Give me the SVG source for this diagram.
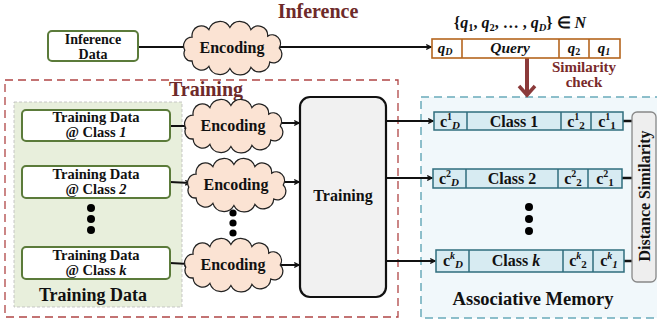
<svg xmlns="http://www.w3.org/2000/svg" width="657" height="326" viewBox="0 0 657 326" font-family="Liberation Serif, Times New Roman, serif">
<style>
text{font-family:"Liberation Serif","Times New Roman",serif;font-weight:bold;fill:#111}
.title{font-size:20px;fill:#6e2a2a}
.gbox{fill:#fff;stroke:#5b7b3a;stroke-width:2}
.cloud{fill:#fbe3d3;stroke:#222;stroke-width:1.2}
.enc{font-size:16px;text-anchor:middle}
.td{font-size:14.5px;text-anchor:middle}
.conn{stroke:#111;stroke-width:2;fill:none}
.bar{fill:#d7ebf2;stroke:#2f6d7d;stroke-width:1.5}
.bl{stroke:#2f6d7d;stroke-width:1.5}
.qbar{fill:#fff;stroke:#b5651d;stroke-width:1.6}
.ql{stroke:#b5651d;stroke-width:1.6}
.cell{font-size:16px;text-anchor:middle}
.it{font-style:italic}
.dot{fill:#000}
</style>
<defs>
<marker id="arr" viewBox="0 0 10 10" refX="9" refY="5" markerWidth="6" markerHeight="6" orient="auto" markerUnits="userSpaceOnUse">
<path d="M1,1 L9,5 L1,9" fill="none" stroke="#111" stroke-width="2"/>
</marker>
<path id="cloud" d="M -45,2 A 8,8 0 0 1 -38,-10 A 9,9 0 0 1 -22,-17 A 11,11 0 0 1 -2,-19 A 11,11 0 0 1 18,-17 A 9,9 0 0 1 34,-11 A 8,8 0 0 1 45,0 A 8,8 0 0 1 36,13 A 10,10 0 0 1 18,18 A 11,11 0 0 1 -2,19 A 11,11 0 0 1 -22,17 A 9,9 0 0 1 -38,12 A 7,7 0 0 1 -45,2 Z"/>
</defs>

<!-- regions -->
<g id="training-region">
<rect x="5" y="80" width="393" height="237" fill="none" stroke="#b04545" stroke-width="1.3" stroke-dasharray="8,5"/>
<text class="title" x="206" y="96" text-anchor="middle">Training</text>
</g>
<g id="training-data-region">
<rect x="14" y="102" width="168" height="205" fill="#e8efdc" stroke="#bbb" stroke-width="0.8" stroke-dasharray="3,2"/>
<text x="93" y="301" font-size="18" text-anchor="middle">Training Data</text>
</g>
<g id="assoc-memory-region">
<rect x="421" y="97" width="240" height="221" fill="#f1f8fb" stroke="#6aaabb" stroke-width="1.5" stroke-dasharray="8,5"/>
<text x="533" y="305" font-size="18.5" text-anchor="middle">Associative Memory</text>
</g>

<g id="inference-title"><text class="title" x="318" y="18" text-anchor="middle">Inference</text></g>

<!-- connectors -->
<g id="connectors">
<line class="conn" x1="138" y1="47" x2="188" y2="47"/>
<line class="conn" x1="276" y1="47" x2="431" y2="47" marker-end="url(#arr)"/>
<line class="conn" x1="170" y1="126" x2="189" y2="126" marker-end="url(#arr)"/>
<line class="conn" x1="170" y1="182" x2="190" y2="183" marker-end="url(#arr)"/>
<line class="conn" x1="170" y1="263" x2="189" y2="264" marker-end="url(#arr)"/>
<line class="conn" x1="278" y1="123" x2="299" y2="123" marker-end="url(#arr)"/>
<line class="conn" x1="280" y1="182" x2="299" y2="182" marker-end="url(#arr)"/>
<line class="conn" x1="278" y1="265" x2="299" y2="265" marker-end="url(#arr)"/>
<line class="conn" x1="386" y1="121" x2="433" y2="121" marker-end="url(#arr)"/>
<line class="conn" x1="386" y1="178" x2="432" y2="178" marker-end="url(#arr)"/>
<line class="conn" x1="386" y1="261" x2="435" y2="261" marker-end="url(#arr)"/>
<line stroke="#8b3a3a" stroke-width="4" x1="527" y1="58" x2="527" y2="95"/>
<path d="M519,86 L527,95 L535,86" fill="none" stroke="#8b3a3a" stroke-width="3.5"/>
<line stroke="#111" stroke-width="2.5" x1="623" y1="121" x2="632" y2="121"/>
<line stroke="#111" stroke-width="2.5" x1="622" y1="178" x2="632" y2="178"/>
<line stroke="#111" stroke-width="2.5" x1="624" y1="261" x2="632" y2="261"/>
</g>

<!-- inference path -->
<g id="inference-data">
<rect class="gbox" x="48" y="31" width="90" height="30" rx="4"/>
<text x="93" y="43.5" font-size="14" text-anchor="middle">Inference</text>
<text x="93" y="58.5" font-size="14" text-anchor="middle">Data</text>
</g>
<g id="inference-encoding">
<use href="#cloud" class="cloud" transform="translate(232,48) scale(1.05,1.08)"/>
<text class="enc" x="232" y="53">Encoding</text>
</g>
<g id="query">
<text x="520" y="28" font-size="16" text-anchor="middle"><tspan>{</tspan><tspan class="it">q</tspan><tspan font-size="10.5" dy="3">1</tspan><tspan dy="-3">, </tspan><tspan class="it">q</tspan><tspan font-size="10.5" dy="3">2</tspan><tspan dy="-3">, … , </tspan><tspan class="it">q</tspan><tspan class="it" font-size="10.5" dy="3">D</tspan><tspan dy="-3">} ∈ </tspan><tspan class="it">N</tspan></text>
<rect class="qbar" x="432" y="39" width="188" height="19"/>
<line class="ql" x1="462" y1="39" x2="462" y2="58"/>
<line class="ql" x1="559" y1="39" x2="559" y2="58"/>
<line class="ql" x1="589" y1="39" x2="589" y2="58"/>
<text x="445" y="53" font-size="15" text-anchor="middle" class="it">q<tspan font-size="10" dy="2">D</tspan></text>
<text x="510" y="53" font-size="15.5" text-anchor="middle" class="it">Query</text>
<text x="574" y="53" font-size="15" text-anchor="middle" class="it">q<tspan font-size="10" dy="2" font-style="normal">2</tspan></text>
<text x="604" y="53" font-size="15" text-anchor="middle" class="it">q<tspan font-size="10" dy="2">1</tspan></text>
</g>
<g id="similarity-check">
<text x="584" y="72" font-size="15" text-anchor="middle" style="fill:#7a2a2a">Similarity</text>
<text x="584" y="87" font-size="15" text-anchor="middle" style="fill:#7a2a2a">check</text>
</g>

<!-- training data nodes -->
<g id="training-data-1">
<rect class="gbox" x="22" y="110" width="148" height="31" rx="4"/>
<text class="td" x="96" y="122">Training Data</text>
<text class="td" x="96" y="137">@ Class <tspan class="it">1</tspan></text>
</g>
<g id="training-data-2">
<rect class="gbox" x="22" y="166" width="148" height="32" rx="4"/>
<text class="td" x="96" y="179">Training Data</text>
<text class="td" x="96" y="194">@ Class <tspan class="it">2</tspan></text>
</g>
<g id="training-data-k">
<rect class="gbox" x="22" y="247" width="148" height="32" rx="4"/>
<text class="td" x="96" y="260">Training Data</text>
<text class="td" x="96" y="275">@ Class <tspan class="it">k</tspan></text>
</g>
<g id="training-dots">
<circle class="dot" cx="91" cy="208" r="4"/><circle class="dot" cx="91" cy="219" r="4"/><circle class="dot" cx="91" cy="230" r="4"/>
</g>

<!-- encodings -->
<g id="encoding-1"><use href="#cloud" class="cloud" transform="translate(233,126) scale(1.05,1.08)"/><text class="enc" x="233" y="131">Encoding</text></g>
<g id="encoding-2"><use href="#cloud" class="cloud" transform="translate(236,185) scale(1.05,1.08)"/><text class="enc" x="236" y="190">Encoding</text></g>
<g id="encoding-k"><use href="#cloud" class="cloud" transform="translate(233,265) scale(1.05,1.08)"/><text class="enc" x="233" y="270">Encoding</text></g>
<g id="encoding-dots">
<circle class="dot" cx="233" cy="213" r="3.6"/><circle class="dot" cx="233" cy="223" r="3.6"/><circle class="dot" cx="233" cy="233" r="3.6"/>
</g>

<!-- training block -->
<g id="training">
<rect x="300" y="97" width="86" height="200" rx="10" fill="#f1f1f1" stroke="#111" stroke-width="2.2"/>
<text x="343" y="201" font-size="16" text-anchor="middle">Training</text>
</g>

<!-- class bars -->
<g id="class-1">
<rect class="bar" x="434" y="112" width="189" height="18"/>
<line class="bl" x1="467" y1="112" x2="467" y2="130"/>
<line class="bl" x1="561" y1="112" x2="561" y2="130"/>
<line class="bl" x1="591" y1="112" x2="591" y2="130"/>
<text class="cell" x="450" y="127">c<tspan font-size="10" dy="-7">1</tspan><tspan font-size="11" dy="9" class="it">D</tspan></text>
<text class="cell" x="514" y="127">Class 1</text>
<text class="cell" x="576" y="127">c<tspan font-size="10" dy="-7">1</tspan><tspan font-size="11" dy="9">2</tspan></text>
<text class="cell" x="607" y="127">c<tspan font-size="10" dy="-7">1</tspan><tspan font-size="11" dy="9">1</tspan></text>
</g>
<g id="class-2">
<rect class="bar" x="433" y="169" width="189" height="19"/>
<line class="bl" x1="466" y1="169" x2="466" y2="188"/>
<line class="bl" x1="558" y1="169" x2="558" y2="188"/>
<line class="bl" x1="588" y1="169" x2="588" y2="188"/>
<text class="cell" x="449" y="184">c<tspan font-size="10" dy="-7">2</tspan><tspan font-size="11" dy="9" class="it">D</tspan></text>
<text class="cell" x="512" y="184">Class 2</text>
<text class="cell" x="573" y="184">c<tspan font-size="10" dy="-7">2</tspan><tspan font-size="11" dy="9">2</tspan></text>
<text class="cell" x="605" y="184">c<tspan font-size="10" dy="-7">2</tspan><tspan font-size="11" dy="9">1</tspan></text>
</g>
<g id="class-k">
<rect class="bar" x="436" y="250" width="188" height="22"/>
<line class="bl" x1="469" y1="250" x2="469" y2="272"/>
<line class="bl" x1="563" y1="250" x2="563" y2="272"/>
<line class="bl" x1="593" y1="250" x2="593" y2="272"/>
<text class="cell" x="453" y="266">c<tspan font-size="10" dy="-7" class="it">k</tspan><tspan font-size="11" dy="9" class="it">D</tspan></text>
<text class="cell" x="516" y="266">Class <tspan class="it">k</tspan></text>
<text class="cell" x="578" y="266">c<tspan font-size="10" dy="-7" class="it">k</tspan><tspan font-size="11" dy="9">2</tspan></text>
<text class="cell" x="609" y="266">c<tspan font-size="10" dy="-7" class="it">k</tspan><tspan font-size="11" dy="9" class="it">1</tspan></text>
</g>
<g id="memory-dots">
<circle class="dot" cx="529" cy="207" r="4"/><circle class="dot" cx="529" cy="219" r="4"/><circle class="dot" cx="529" cy="231" r="4"/>
</g>

<g id="distance-similarity">
<rect x="632" y="112" width="24" height="170" rx="5" fill="#eeeeee" stroke="#888" stroke-width="1.3"/>
<text x="0" y="0" font-size="16" text-anchor="middle" transform="translate(650,196) rotate(-90)">Distance Similarity</text>
</g>
</svg>
